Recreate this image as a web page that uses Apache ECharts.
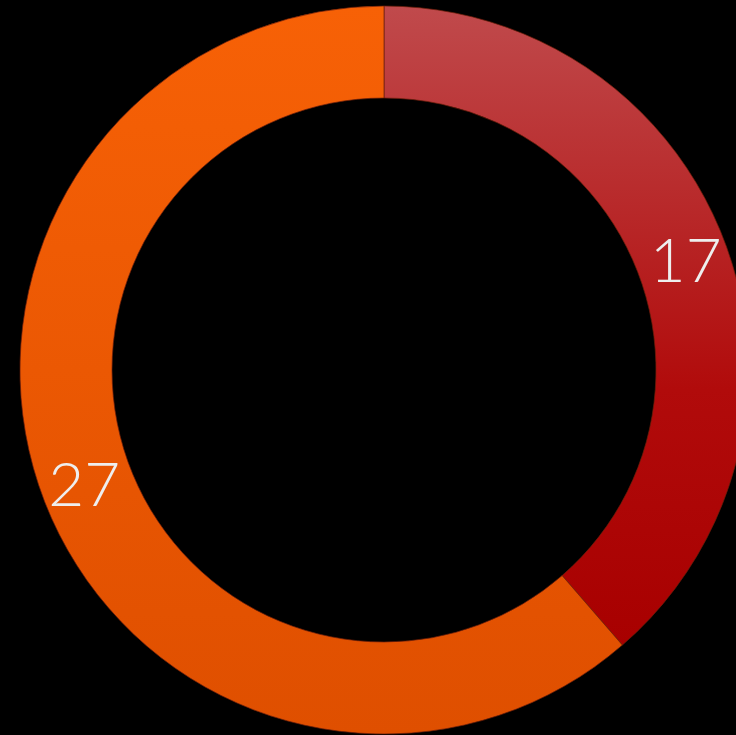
<!DOCTYPE html>
<html>
<head>
<meta charset="utf-8">
<style>
  html, body { margin: 0; padding: 0; background: #000; }
  #main { width: 736px; height: 735px; }
</style>
<script src="https://cdn.jsdelivr.net/npm/echarts@6/dist/echarts.min.js"></script>
</head>
<body>
<div id="main"></div>
<script>
  const names = ['A', 'B']
  const values = [17, 27]
  // gradient stops per slice, top to bottom
  const gradients = [
    [[0, '#c04a4c'], [0.6, '#b10b0b'], [1, '#a80000']],
    [[0, '#f76106'], [1, '#df4f00']]
  ]

  const chart = echarts.init(document.getElementById('main'))
  const data = values.map((v, i) => ({
    name: names[i],
    value: v,
    itemStyle: {
      color: new echarts.graphic.LinearGradient(0, 0, 0, 1,
        gradients[i].map(s => ({ offset: s[0], color: s[1] })))
    }
  }))

  chart.setOption({
    backgroundColor: '#000',
    animation: false,
    series: [{
      type: 'pie',
      center: [384, 370],
      radius: [272, 364],
      startAngle: 90,
      clockwise: true,
      avoidLabelOverlap: false,
      itemStyle: {
        borderColor: 'rgba(110,30,10,0.7)',
        borderWidth: 1
      },
      label: {
        show: true,
        position: 'inside',
        formatter: '{c}',
        color: '#eeeeee',
        fontFamily: 'Lato',
        fontWeight: 300,
        fontSize: 62,
        offset: [1, 4]
      },
      labelLine: { show: false },
      data: data
    }]
  })
</script>
</body>
</html>
